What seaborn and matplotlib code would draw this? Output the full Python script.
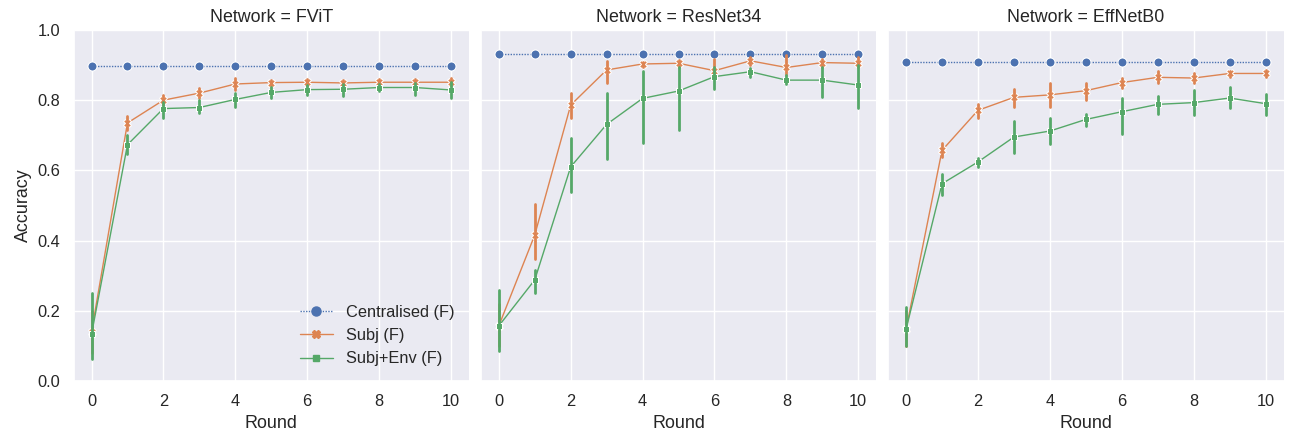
import pandas as pd
import matplotlib.pyplot as plt
import seaborn as sns

networks = ["FViT", "ResNet34", "EffNetB0"]
methods = ["Centralised (F)", "Subj (F)", "Subj+Env (F)"]
rounds = list(range(11))

# centralised accuracy (flat line)
central = {"FViT": 0.896, "ResNet34": 0.930, "EffNetB0": 0.910}

# mean, lower, upper of the error bars
subj_mean = {
    "FViT":     [0.140, 0.735, 0.800, 0.820, 0.846, 0.850, 0.851, 0.849, 0.851, 0.851, 0.851],
    "ResNet34": [0.157, 0.416, 0.786, 0.886, 0.903, 0.905, 0.884, 0.912, 0.893, 0.907, 0.905],
    "EffNetB0": [0.148, 0.657, 0.771, 0.808, 0.815, 0.827, 0.850, 0.865, 0.863, 0.876, 0.876],
}
subj_lo = {
    "FViT":     [0.080, 0.714, 0.785, 0.805, 0.830, 0.840, 0.841, 0.839, 0.843, 0.843, 0.840],
    "ResNet34": [0.100, 0.348, 0.748, 0.848, 0.895, 0.895, 0.871, 0.900, 0.871, 0.895, 0.893],
    "EffNetB0": [0.100, 0.638, 0.750, 0.781, 0.781, 0.800, 0.834, 0.848, 0.848, 0.867, 0.865],
}
subj_hi = {
    "FViT":     [0.200, 0.756, 0.815, 0.835, 0.862, 0.858, 0.860, 0.858, 0.859, 0.859, 0.862],
    "ResNet34": [0.220, 0.503, 0.821, 0.912, 0.910, 0.915, 0.916, 0.924, 0.929, 0.918, 0.922],
    "EffNetB0": [0.200, 0.678, 0.789, 0.833, 0.848, 0.848, 0.862, 0.882, 0.876, 0.884, 0.886],
}
env_mean = {
    "FViT":     [0.133, 0.673, 0.776, 0.779, 0.802, 0.822, 0.830, 0.831, 0.836, 0.836, 0.829],
    "ResNet34": [0.157, 0.288, 0.610, 0.731, 0.805, 0.826, 0.867, 0.881, 0.857, 0.857, 0.843],
    "EffNetB0": [0.148, 0.562, 0.624, 0.695, 0.712, 0.745, 0.767, 0.788, 0.793, 0.806, 0.790],
}
env_lo = {
    "FViT":     [0.062, 0.648, 0.748, 0.762, 0.781, 0.807, 0.815, 0.813, 0.826, 0.815, 0.805],
    "ResNet34": [0.086, 0.252, 0.538, 0.633, 0.678, 0.714, 0.833, 0.865, 0.845, 0.810, 0.779],
    "EffNetB0": [0.100, 0.531, 0.610, 0.650, 0.674, 0.726, 0.705, 0.760, 0.757, 0.779, 0.757],
}
env_hi = {
    "FViT":     [0.250, 0.700, 0.795, 0.800, 0.821, 0.838, 0.843, 0.846, 0.846, 0.850, 0.852],
    "ResNet34": [0.259, 0.316, 0.693, 0.821, 0.884, 0.895, 0.895, 0.891, 0.871, 0.893, 0.900],
    "EffNetB0": [0.211, 0.589, 0.636, 0.741, 0.750, 0.760, 0.805, 0.811, 0.829, 0.838, 0.817],
}

rows = []
for net in networks:
    for i, r in enumerate(rounds):
        for v in [central[net]] * 3:
            rows.append((net, r, "Centralised (F)", v))
        for v in (subj_lo[net][i], subj_mean[net][i], subj_hi[net][i]):
            rows.append((net, r, "Subj (F)", v))
        for v in (env_lo[net][i], env_mean[net][i], env_hi[net][i]):
            rows.append((net, r, "Subj+Env (F)", v))
df = pd.DataFrame(rows, columns=["Network", "Round", "Method", "Accuracy"])

sns.set_theme(style="darkgrid", font_scale=1.07)
plt.rcParams["font.family"] = ["Liberation Sans", "DejaVu Sans"]

g = sns.relplot(
    data=df, x="Round", y="Accuracy", hue="Method", style="Method",
    col="Network", col_order=networks, hue_order=methods, style_order=methods,
    kind="line", markers=["o", "X", "s"],
    dashes={"Centralised (F)": (1, 1), "Subj (F)": "", "Subj+Env (F)": ""},
    estimator="median", errorbar=("pi", 100), err_style="bars",
    err_kws={"linewidth": 2}, linewidth=1, markersize=6.5,
    height=4.4, aspect=1290 / 3 / 440,
)

g.set(ylim=(0, 1.0), xticks=[0, 2, 4, 6, 8, 10])

# smaller markers for the two federated series
msize = {"o": 6.5, "X": 5.5, "s": 4.8}
for ax in g.axes.flat:
    for line in ax.lines:
        m = line.get_marker()
        if m in msize:
            line.set_markersize(msize[m])

handles = g.legend.legend_handles
labels = [t.get_text() for t in g.legend.texts]
g.legend.remove()
for h in handles:
    m = h.get_marker()
    if m in msize:
        h.set_markersize(msize[m])
g.axes[0, 0].legend(handles, labels, loc="lower right", frameon=False)

g.figure.set_size_inches(12.9, 4.4)
g.figure.subplots_adjust(left=0.057, right=0.995, bottom=0.134, top=0.932, wspace=0.03)
g.figure.savefig("out.png", dpi=100)
